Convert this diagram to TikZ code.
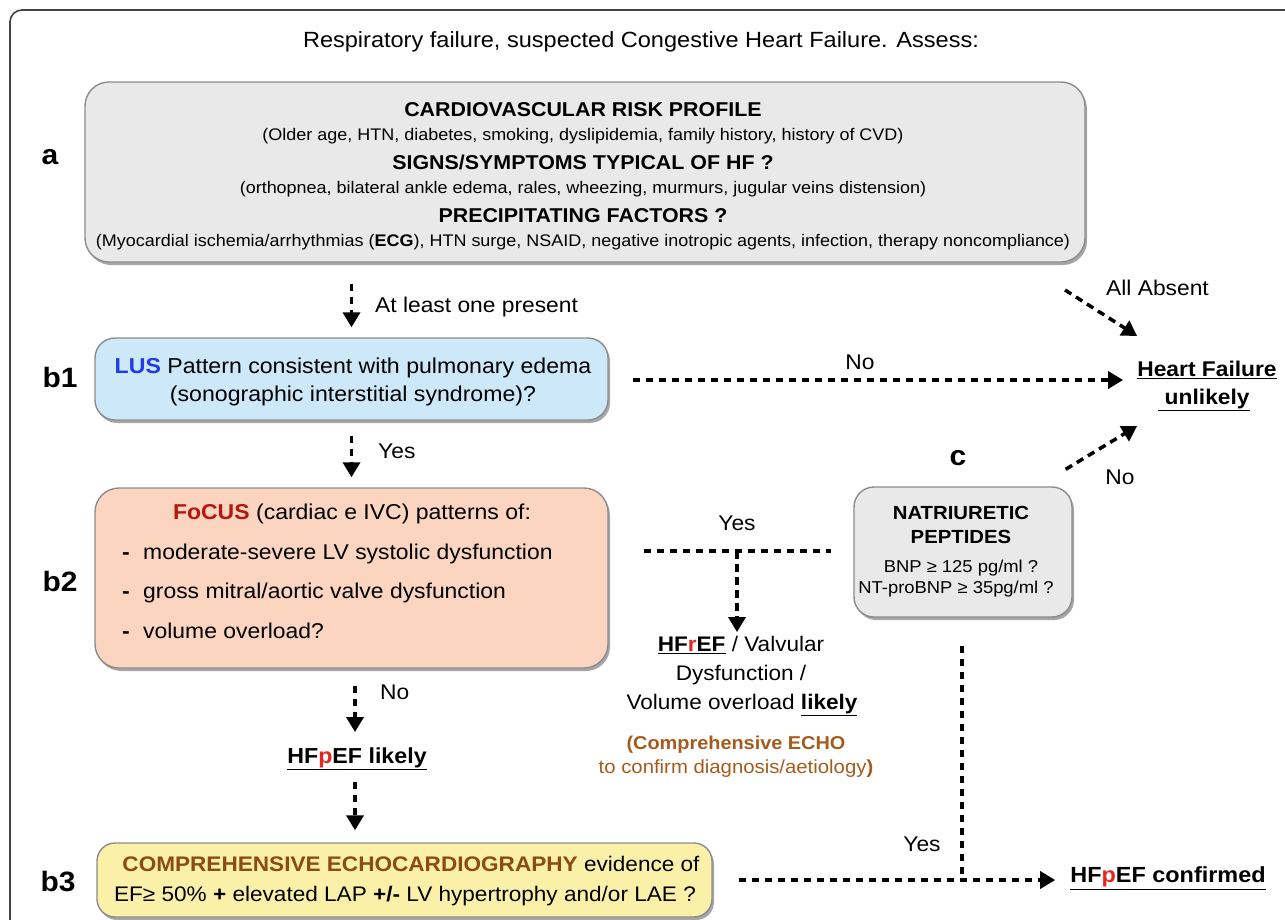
\documentclass[tikz,border=0pt]{standalone}
\usepackage{fontspec}
\setmainfont{Liberation Sans}[FakeStretch=1.07]
\usetikzlibrary{arrows.meta,shadows,calc}
\definecolor{frameC}{HTML}{444444}
\definecolor{grayfill}{HTML}{E9E9E9}
\definecolor{grayline}{HTML}{8C8C8C}
\definecolor{lusfill}{HTML}{CDE8F8}
\definecolor{focfill}{HTML}{FBD5BF}
\definecolor{yelfill}{HTML}{FAF0A8}
\definecolor{lusblue}{HTML}{1F3BEB}
\definecolor{focred}{HTML}{B5170F}
\definecolor{brownA}{HTML}{8C4A14}
\definecolor{brownB}{HTML}{A65B1C}
\definecolor{redp}{HTML}{E6261F}
\newcommand\fsz[1]{\fontsize{#1}{#1}\selectfont}
\begin{document}
\begin{tikzpicture}[x=1pt,y=-1pt,
  box/.style={draw=grayline,line width=1.4pt,rounded corners=24pt,inner sep=0pt,
     drop shadow={shadow xshift=2pt,shadow yshift=-3pt,opacity=.35,fill=black}},
  txt/.style={inner sep=0pt,text height=.75em,text depth=.2em,yshift=-4pt},
  lab/.style={txt,font=\fsz{28}\bfseries},
  flow/.style={line width=3.5pt,dash pattern=on 7.5pt off 5.5pt,
     -{Triangle[width=17pt,length=15pt]}},
  flowline/.style={line width=3.5pt,dash pattern=on 7.5pt off 5.5pt}]
\useasboundingbox (0,0) rectangle (1285,919);
\begin{scope}
\clip (0,0) rectangle (1285,919);
\fill[white] (0,0) rectangle (1285,919);
\draw[frameC,line width=1.6pt,rounded corners=12pt] (10,940) -- (10,10) -- (1300,10);
% title
\node[txt,font=\fsz{22}] (title) at (641,41) {Respiratory failure, suspected Congestive Heart Failure. Assess:};
% box a
\node[box,fill=grayfill,minimum width=1000pt,minimum height=180pt] (a) at (585,172) {};
\node[txt,font=\fsz{20}\bfseries] (a1) at (583,110) {CARDIOVASCULAR RISK PROFILE};
\node[txt,font=\fsz{16.8}] (a2) at (583,134) {(Older age, HTN, diabetes, smoking, dyslipidemia, family history, history of CVD)};
\node[txt,font=\fsz{20}\bfseries] (a3) at (583,163) {SIGNS/SYMPTOMS TYPICAL OF HF ?};
\node[txt,font=\fsz{16.8}] (a4) at (583,187) {(orthopnea, bilateral ankle edema, rales, wheezing, murmurs, jugular veins distension)};
\node[txt,font=\fsz{20}\bfseries] (a5) at (583,216) {PRECIPITATING FACTORS ?};
\node[txt,font=\fsz{16.8}] (a6) at (583,240) {(Myocardial ischemia/arrhythmias (\textbf{ECG}), HTN surge, NSAID, negative inotropic agents, infection, therapy noncompliance)};
\node[lab] (la) at (50,158) {a};
% box b1
\node[box,fill=lusfill,rounded corners=20pt,minimum width=513pt,minimum height=82pt] (b1) at (351.5,379) {};
\node[txt,font=\fsz{21.6}] (b1t1) at (353,367) {\textcolor{lusblue}{\textbf{LUS}} Pattern consistent with pulmonary edema};
\node[txt,font=\fsz{21.6}] (b1t2) at (353,395) {(sonographic interstitial syndrome)?};
\node[lab] (lb1) at (60,381) {b1};
% box b2
\node[box,fill=focfill,minimum width=513pt,minimum height=180pt] (b2) at (351.5,578) {};
\node[txt,font=\fsz{21.5}] (b2t0) at (352,513) {\textcolor{focred}{\textbf{FoCUS}} (cardiac e IVC) patterns of:};
\node[txt,font=\fsz{21.5}\bfseries] (d1) at (126,553) {-};
\node[txt,font=\fsz{21.5}\bfseries] (d2) at (126,592) {-};
\node[txt,font=\fsz{21.5}\bfseries] (d3) at (126,632) {-};
\node[txt,font=\fsz{21.4},anchor=west] (b2t1) at (143,553) {moderate-severe LV systolic dysfunction};
\node[txt,font=\fsz{21.4},anchor=west] (b2t2) at (143,592) {gross mitral/aortic valve dysfunction};
\node[txt,font=\fsz{21.4},anchor=west] (b2t3) at (143,632) {volume overload?};
\node[lab] (lb2) at (60,585) {b2};
% box c
\node[box,fill=grayfill,rounded corners=20pt,minimum width=218pt,minimum height=130pt] (c) at (963,552) {};
\node[txt,font=\fsz{19}\bfseries] (c1) at (961,513) {NATRIURETIC};
\node[txt,font=\fsz{19}\bfseries] (c2) at (961,537) {PEPTIDES};
\node[txt,font=\fsz{17.2}] (c3) at (961,566) {BNP ≥ 125 pg/ml ?};
\node[txt,font=\fsz{17.2}] (c4) at (956,587) {NT-proBNP ≥ 35pg/ml ?};
\node[lab] (lc) at (958,459) {c};
% HF unlikely
\node[txt,font=\fsz{21.3}\bfseries] (hfu1) at (1207,370) {\underline{Heart Failure}};
\node[txt,font=\fsz{21.3}\bfseries] (hfu2) at (1204,398) {\underline{\ unlikely}};
% HFrEF group
\node[txt,font=\fsz{21.1}] (r1) at (741,645) {\textbf{\underline{HF\textcolor{redp}{r}EF}} / Valvular};
\node[txt,font=\fsz{21.1}] (r2) at (741,674) {Dysfunction /};
\node[txt,font=\fsz{21.1}] (r3) at (742,703) {Volume overload \textbf{\underline{likely}}};
\node[txt,font=\fsz{18.6}\bfseries,text=brownB] (r4) at (736,743) {(Comprehensive ECHO};
\node[txt,font=\fsz{19},text=brownB] (r5) at (736,767) {to confirm diagnosis/aetiology\textbf{)}};
% HFpEF likely
\node[txt,font=\fsz{21.7}\bfseries] (hfpl) at (357,757) {\underline{HF\textcolor{redp}{p}EF likely}};
% box b3
\node[box,fill=yelfill,rounded corners=18pt,minimum width=615pt,minimum height=74pt] (b3) at (404.5,880) {};
\node[txt,font=\fsz{21.1}] (b3t1) at (411,865) {\textcolor{brownA}{\textbf{COMPREHENSIVE ECHOCARDIOGRAPHY}} evidence of};
\node[txt,font=\fsz{21.1}] (b3t2) at (405,895) {EF≥ 50\% \textbf{+} elevated LAP \textbf{+/-} LV hypertrophy and/or LAE ?};
\node[lab] (lb3) at (58,885) {b3};
\node[txt,font=\fsz{21.9}\bfseries] (hfpc) at (1168,876) {\underline{HF\textcolor{redp}{p}EF confirmed}};
% connectors
\draw[flow] ($(a.south -| b1.north)+(0,21)$) -- ($(b1.north)+(0,-10)$);
\node[txt,font=\fsz{21.3},anchor=west] (l1) at (375,306) {At least one present};
\draw[flow] ($(b1.east)+(24,1)$) -- ($(hfu1.west)+(-14,6)$);
\node[txt,font=\fsz{21.3}] (l2) at (860,363) {No};
\coordinate (aa) at (1065,290);
\draw[flow] (aa) -- ($(hfu1.west)+(0,-38)$);
\node[txt,font=\fsz{21.3},anchor=west] (l3) at (1106,289) {All Absent};
\draw[flow] ($(c.north east)+(-7,-17)$) -- ($(hfu1.west)+(0,52)$);
\node[txt,font=\fsz{21.3}] (l4) at (1120,478) {No};
\draw[flow] ($(b1.south)+(0,15)$) -- ($(b2.north)+(0,-10)$);
\node[txt,font=\fsz{21.3},anchor=west] (l5) at (378,452) {Yes};
\coordinate (yl) at ($(b2.east)+(35,-27)$);
\coordinate (yr) at ($(c.west)+(-22,-1)$);
\draw[flowline] (yl) -- (yr);
\coordinate (ym) at (737,551);
\draw[flow] (ym) -- ($(r1.north -| ym)+(0,-12)$);
\node[txt,font=\fsz{21.3}] (l6) at (737,524) {Yes};
\draw[flow] ($(b2.south)+(3.5,17)$) -- ($(hfpl.north)+(-2,-24)$);
\node[txt,font=\fsz{21.3},anchor=west] (l7) at (380,693) {No};
\draw[flow] ($(hfpl.south)+(-2,16)$) -- ($(b3.north)+(-49.5,-12)$);
\coordinate (cj) at (962,880);
\draw[flowline] ($(c.south)+(-1,28)$) -- (cj);
\draw[flow] ($(b3.east)+(26,0)$) -- ($(hfpc.west)+(-15,0)$);
\node[txt,font=\fsz{21.3}] (l8) at (922,845) {Yes};
\end{scope}
\end{tikzpicture}
\end{document}
